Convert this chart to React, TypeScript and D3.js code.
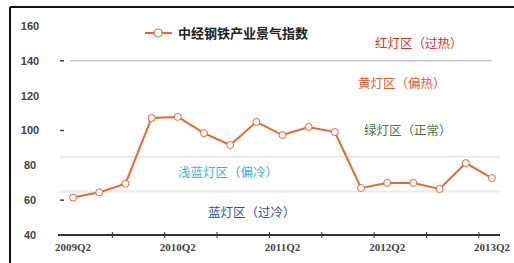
import React from "react";
import * as d3 from "d3";

// quarterly index values, 2009Q2 .. 2013Q2
const quarters = [
  "2009Q2", "2009Q3", "2009Q4", "2010Q1", "2010Q2", "2010Q3", "2010Q4", "2011Q1",
  "2011Q2", "2011Q3", "2011Q4", "2012Q1", "2012Q2", "2012Q3", "2012Q4", "2013Q1", "2013Q2",
];
const indexValues = [61.5, 64.5, 69.5, 107.2, 107.8, 98.5, 91.7, 104.9, 97.4, 102, 99.1, 67, 69.9, 69.9, 66.4, 81.3, 72.7];
const tickLabels = ["2009Q2", "2010Q2", "2011Q2", "2012Q2", "2013Q2"];
const yTicks = [40, 60, 80, 100, 120, 140, 160];
const zoneLines = [140, 85, 65];
const zoneNames = ["红灯区（过热）", "黄灯区（偏热）", "绿灯区（正常）", "浅蓝灯区（偏冷）", "蓝灯区（过冷）"];
const zoneColors = ["#e0301e", "#e8582a", "#4a7a3a", "#3fb0d4", "#2f4fa0"];
const legendName = "中经钢铁产业景气指数";

const W = 514;
const H = 263;
const LINE = "#ea6530";
const CJK = "'Noto Sans CJK SC', 'Noto Sans', sans-serif";

export default function App() {
  const x = d3.scaleBand<string>().domain(quarters).range([60, 505]);
  const y = d3.scaleLinear().domain([40, 160]).range([235, 26]);
  const cx = (q: string) => (x(q) as number) + x.bandwidth() / 2;

  const line = d3.line<number>()
    .x((d, i) => cx(quarters[i]))
    .y((d) => y(d));

  // every second category boundary gets a tick
  const boundaryTicks = d3.range(2, quarters.length + 1, 2).map((k) => 60 + k * x.bandwidth());

  // zone label positions (left x, value)
  const zonePos = [
    [375, 150], [358, 127], [364, 100], [178, 76], [208, 53],
  ];

  return (
    <svg width={W} height={H} style={{ position: "absolute", left: 0, top: 0, background: "#fff" }}>
      {/* frame */}
      <line x1={10} x2={W} y1={7} y2={7} stroke="#111" strokeWidth={2} />
      <line x1={10} x2={10} y1={7} y2={H} stroke="#111" strokeWidth={2} />

      {/* zone boundaries */}
      {zoneLines.map((v, i) => (
        <line key={v} x1={i === 0 ? 70 : 60} x2={i === 0 ? 492 : 500} y1={y(v)} y2={y(v)}
          stroke={i === 0 ? "#c8c8c8" : "#ececec"} strokeWidth={i === 0 ? 1.5 : 2.5} />
      ))}

      {/* y labels */}
      {yTicks.map((v) => (
        <text key={v} x={30} y={y(v)} dy="0.35em" textAnchor="middle" fontSize={11}
          fontWeight="bold" fill="#444" fontFamily="'Liberation Sans', Arial, sans-serif">{v}</text>
      ))}
      {[140, 100, 60].map((v) => (
        <line key={v} x1={60} x2={64} y1={y(v)} y2={y(v)} stroke="#444" strokeWidth={1.5} />
      ))}

      {/* x axis */}
      <line x1={58} x2={500} y1={y(40)} y2={y(40)} stroke="#333" strokeWidth={2} />
      {boundaryTicks.map((t) => (
        <line key={t} x1={t} x2={t} y1={y(40) - 3} y2={y(40) + 3} stroke="#333" strokeWidth={1} />
      ))}
      {tickLabels.map((q) => (
        <text key={q} x={cx(q)} y={251} textAnchor="middle" fontSize={11} fontWeight="bold"
          fill="#444" fontFamily="'Liberation Serif', serif">{q}</text>
      ))}

      {/* zone labels */}
      {zoneNames.map((n, i) => (
        <text key={n} x={zonePos[i][0]} y={y(zonePos[i][1])} dy="0.35em" fontSize={12.5}
          fill={zoneColors[i]} fontFamily={CJK}>{n}</text>
      ))}

      {/* legend */}
      <line x1={145} x2={172} y1={33} y2={33} stroke={LINE} strokeWidth={2} />
      <circle cx={158} cy={33} r={4} fill="#fff" stroke={LINE} strokeWidth={1.2} />
      <text x={178} y={33} dy="0.35em" fontSize={13} fontWeight="bold" fill="#222" fontFamily={CJK}>{legendName}</text>

      {/* series */}
      <path d={line(indexValues) || ""} fill="none" stroke={LINE} strokeWidth={2} />
      {indexValues.map((v, i) => (
        <circle key={i} cx={cx(quarters[i])} cy={y(v)} r={3.5} fill="#fff" stroke={LINE} strokeWidth={1} />
      ))}
    </svg>
  );
}
